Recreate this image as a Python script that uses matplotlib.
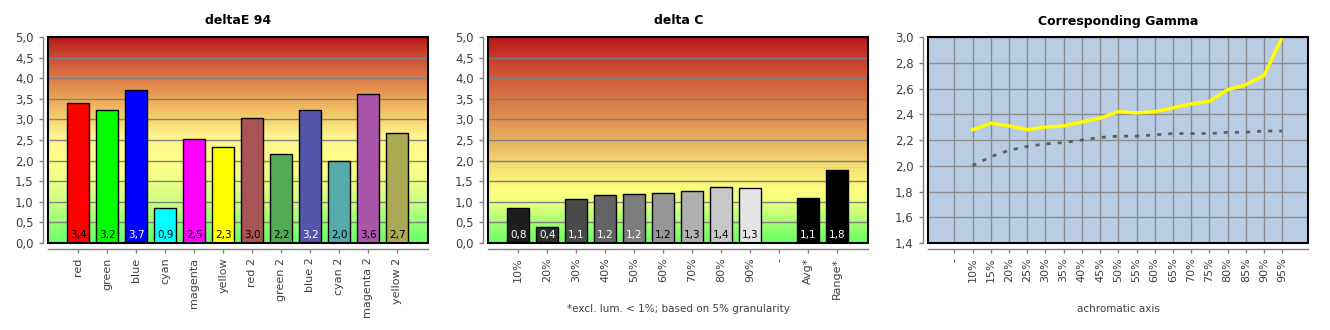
import numpy as np
import matplotlib
matplotlib.use("Agg")
import matplotlib.pyplot as plt
from matplotlib.colors import LinearSegmentedColormap
from matplotlib.patches import Rectangle

plt.rcParams['font.family'] = ['DejaVu Sans']

# ---- data ----
de_cats = ["red", "green", "blue", "cyan", "magenta", "yellow",
           "red 2", "green 2", "blue 2", "cyan 2", "magenta 2", "yellow 2"]
de_vals = [3.40, 3.23, 3.72, 0.86, 2.53, 2.33, 3.04, 2.16, 3.23, 2.00, 3.62, 2.66]
de_colors = ["#ff0000", "#00ff00", "#0000ff", "#00ffff", "#ff00ff", "#ffff00",
             "#a85454", "#55aa55", "#5555aa", "#55aaaa", "#aa55aa", "#aaaa55"]
de_txt = ["black", "black", "white", "black", "black", "black",
          "black", "black", "white", "black", "black", "black"]

dc_cats = ["10%", "20%", "30%", "40%", "50%", "60%", "70%", "80%", "90%", "-", "Avg*", "Range*"]
dc_vals = [0.84, 0.39, 1.07, 1.16, 1.19, 1.21, 1.26, 1.36, 1.33, np.nan, 1.09, 1.78]
dc_colors = ["#1e1e1e", "#2e2e2e", "#4a4a4a", "#646464", "#7d7d7d", "#969696",
             "#b0b0b0", "#c8c8c8", "#e4e4e4", "#ffffff", "#000000", "#000000"]
dc_txt = ["white", "white", "white", "white", "white", "black",
          "black", "black", "black", "black", "white", "white"]

gm_cats = ["-", "10%", "15%", "20%", "25%", "30%", "35%", "40%", "45%", "50%",
           "55%", "60%", "65%", "70%", "75%", "80%", "85%", "90%", "95%"]
gm_meas = [2.28, 2.33, 2.31, 2.28, 2.30, 2.31, 2.34, 2.37, 2.42,
           2.41, 2.42, 2.45, 2.48, 2.50, 2.59, 2.63, 2.70, 3.00]
gm_ref = [2.00, 2.07, 2.12, 2.15, 2.17, 2.18, 2.20, 2.22, 2.23,
          2.23, 2.24, 2.25, 2.25, 2.25, 2.26, 2.26, 2.27, 2.27]

# ---- styling helpers ----
grad1 = LinearSegmentedColormap.from_list("g1", [
    (0.0, "#66ff66"), (0.1, "#99ff77"), (0.2, "#ccff80"), (0.3, "#eeff88"),
    (0.4, "#ffff88"), (0.52, "#fff490"), (0.6, "#f6d470"), (0.7, "#eaa858"),
    (0.8, "#dd7a48"), (0.9, "#cc5038"), (1.0, "#b81818")])
grad2 = LinearSegmentedColormap.from_list("g2", [
    (0.0, "#66ff66"), (0.1, "#a8ff72"), (0.2, "#eeff80"), (0.26, "#ffff80"),
    (0.4, "#f2d472"), (0.5, "#e8b060"), (0.6, "#e09050"), (0.7, "#d87848"),
    (0.8, "#d05c3c"), (0.9, "#c83c2c"), (1.0, "#b81818")])

TICKC = "#404040"
AXC = "#808080"

fig = plt.figure(figsize=(13.3, 3.3), dpi=100)
lefts = [48.3 / 1330, 488.3 / 1330, 928.3 / 1330]
bottom, width, height = 87 / 330, 380 / 1330, 206 / 330


def setup_axes(ax):
    for s in ("left", "bottom"):
        ax.spines[s].set_position(("outward", 4))
        ax.spines[s].set_color(AXC)
        ax.spines[s].set_linewidth(1)
    for s in ("top", "right"):
        ax.spines[s].set_visible(False)
    ax.add_patch(Rectangle((0, 0), 1, 1, transform=ax.transAxes, fill=False,
                           edgecolor="black", lw=1.5, zorder=10, clip_on=False))
    ax.tick_params(axis="both", colors=AXC, labelcolor=TICKC, labelsize=8,
                   length=3, width=1)
    ax.tick_params(axis="y", labelsize=8.5)
    ax.tick_params(axis="x", labelrotation=90)


def bar_panel(ax, cats, vals, colors, txtc, cmap, title):
    x = np.arange(len(cats))
    xl = (-1.03, len(cats) + 0.07)
    ax.imshow(np.linspace(0, 1, 600).reshape(-1, 1), cmap=cmap, origin="lower",
              extent=(xl[0], xl[1], 0, 5), aspect="auto", zorder=0,
              interpolation="bilinear")
    for yv in np.arange(0.5, 5.0, 0.5):
        ax.axhline(yv, color="#808080", lw=1, zorder=1)
    ax.bar(x, vals, width=0.77, color=colors, edgecolor="black", lw=1, zorder=2)
    for xi, v, c in zip(x, vals, txtc):
        if np.isnan(v):
            continue
        ax.text(xi, 0.19, f"{v:.1f}".replace(".", ","), ha="center", va="center",
                fontsize=7.5, color=c, zorder=3)
    ax.set_xlim(*xl)
    ax.set_ylim(0, 5)
    ax.set_yticks(np.arange(0, 5.01, 0.5))
    ax.set_yticklabels([f"{t:.1f}".replace(".", ",") for t in np.arange(0, 5.01, 0.5)])
    ax.set_xticks(x)
    ax.set_xticklabels(cats)
    ax.set_title(title, fontsize=9, fontweight="bold", pad=9)
    setup_axes(ax)


ax1 = fig.add_axes([lefts[0], bottom, width, height])
bar_panel(ax1, de_cats, de_vals, de_colors, de_txt, grad1, "deltaE 94")

ax2 = fig.add_axes([lefts[1], bottom, width, height])
bar_panel(ax2, dc_cats, dc_vals, dc_colors, dc_txt, grad2, "delta C")
fig.text(lefts[1] + width / 2, 21 / 330, "*excl. lum. < 1%; based on 5% granularity",
         ha="center", va="center", fontsize=7.5, color=TICKC)

ax3 = fig.add_axes([lefts[2], bottom, width, height])
ax3.set_facecolor("#b8cce4")
xg = np.arange(len(gm_cats))
ax3.plot(xg[1:], gm_meas, color="#ffff00", lw=2.5, zorder=3, clip_on=False)
ax3.plot(xg[1:], gm_ref, color="#606060", lw=2, ls=(0, (1.5, 2.5)), zorder=3)
ax3.set_xlim(-1.43, len(gm_cats) - 1 + 1.43)
ax3.set_ylim(1.4, 3.0)
yt = np.arange(1.4, 3.001, 0.2)
ax3.set_yticks(yt)
ax3.set_yticklabels([f"{t:.1f}".replace(".", ",") for t in yt])
ax3.set_xticks(xg)
ax3.set_xticklabels(gm_cats)
ax3.grid(True, color="#8c8c8c", lw=1, zorder=1)
ax3.set_axisbelow(True)
ax3.set_title("Corresponding Gamma", fontsize=9, fontweight="bold", pad=9)
setup_axes(ax3)
fig.text(lefts[2] + width / 2, 21 / 330, "achromatic axis",
         ha="center", va="center", fontsize=7.5, color=TICKC)

fig.savefig("out.png", dpi=100, facecolor="white")
